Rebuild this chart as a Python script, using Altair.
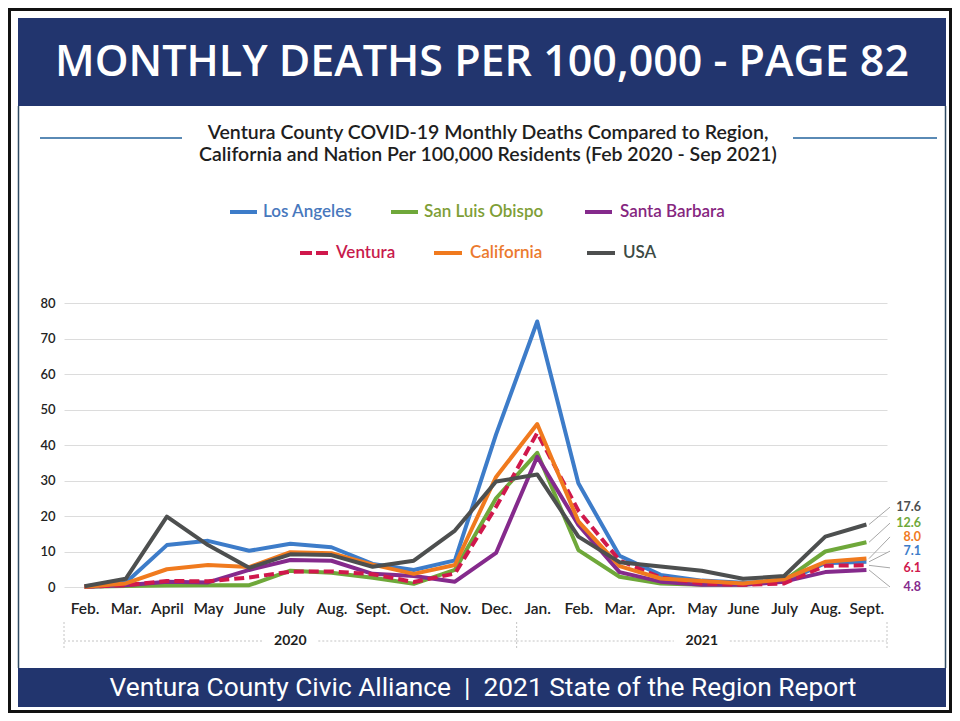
import json
import altair as alt
import pandas as pd

# ---------------- data ----------------
months = ["Feb.", "Mar.", "April", "May", "June", "July", "Aug.", "Sept.", "Oct.", "Nov.", "Dec.",
          "Jan.", "Feb.", "Mar.", "Apr.", "May", "June", "July", "Aug.", "Sept."]
years = ["2020", "2021"]
year_first_idx = [0, 11]
year_last_idx = [10, 19]

series_names = ["Los Angeles", "San Luis Obispo", "Santa Barbara", "Ventura", "California", "USA"]
los_angeles = [0.2, 1.2, 11.8, 13.0, 10.2, 12.2, 11.2, 6.5, 4.8, 7.5, 43.0, 74.8, 29.2, 8.8, 3.4, 1.8, 1.2, 1.5, 6.7, 7.1]
san_luis_obispo = [0.1, 0.3, 0.4, 0.5, 0.5, 4.6, 4.0, 2.6, 0.9, 4.8, 25.0, 37.8, 10.4, 2.9, 1.0, 0.6, 0.6, 1.8, 10.0, 12.6]
santa_barbara = [0.1, 0.5, 1.5, 1.3, 4.8, 7.6, 7.4, 3.7, 3.1, 1.5, 9.6, 36.7, 17.5, 4.2, 1.5, 0.6, 0.6, 1.5, 4.2, 4.8]
ventura = [0.1, 0.5, 1.7, 1.6, 2.7, 4.3, 4.4, 3.6, 1.4, 3.8, 22.6, 43.4, 21.5, 7.5, 2.7, 1.0, 0.6, 1.0, 6.0, 6.1]
california = [0.1, 1.0, 5.0, 6.2, 5.6, 9.8, 9.5, 6.3, 3.7, 6.2, 31.0, 45.9, 18.5, 5.9, 2.4, 1.7, 1.0, 2.2, 7.1, 8.0]
usa = [0.2, 2.3, 19.8, 11.8, 5.4, 9.2, 9.0, 5.7, 7.4, 15.9, 29.7, 31.7, 14.2, 7.0, 5.8, 4.6, 2.3, 3.1, 14.2, 17.6]
series_values = [los_angeles, san_luis_obispo, santa_barbara, ventura, california, usa]

# ---------------- styles / layout ----------------
line_colors = ["#3d7cc9", "#6fa83a", "#852a8c", "#d0184c", "#f07a1e", "#4d4f4f"]
legend_text_colors = ["#4878bd", "#7e9e36", "#86267f", "#c81a4c", "#eb7a2e", "#3c4a44"]
end_label_y = [10.1, 18.0, 0.0, 5.4, 14.1, 22.5]   # where each end label sits (data units)

FONT = "Lato"
W, H = 823, 284
PAD = {"left": 56, "top": 295, "right": 65, "bottom": 126}

X_SCALE = alt.Scale(domain=[-0.5, 19.5], nice=False, zero=False)
Y_SCALE = alt.Scale(domain=[0, 80], nice=False, zero=True)
label_expr = json.dumps(months) + "[datum.value]"
X_AXIS = alt.Axis(values=list(range(len(months))), labelExpr=label_expr, grid=False, ticks=False,
                  domain=False, labelPadding=14, labelFont=FONT, labelFontSize=15.5, labelFontWeight=600,
                  labelColor="#222222", title=None, labelAngle=0, labelOverlap=False, labelFlush=False)
Y_AXIS = alt.Axis(values=list(range(0, 81, 10)), grid=True, gridColor="#dcdcdc", gridWidth=1,
                  ticks=False, domain=False, labelPadding=9, labelFont=FONT, labelFontSize=13,
                  labelFontWeight=600, labelColor="#222222", title=None)

one = pd.DataFrame({"k": [0]})


def text_at(x, y, txt, **kw):
    return alt.Chart(one).mark_text(**kw).encode(x=alt.value(x), y=alt.value(y), text=alt.value(txt))


def rect_at(x, x2, y, y2, **kw):
    return alt.Chart(one).mark_rect(**kw).encode(x=alt.value(x), x2=alt.value(x2),
                                                  y=alt.value(y), y2=alt.value(y2))


def hrule(x, x2, y, **kw):
    return alt.Chart(one).mark_rule(**kw).encode(x=alt.value(x), x2=alt.value(x2), y=alt.value(y))


def vrule(x, y, y2, **kw):
    return alt.Chart(one).mark_rule(**kw).encode(x=alt.value(x), y=alt.value(y), y2=alt.value(y2))


layers = []

# page frame, header, footer
layers.append(rect_at(-54.5, 886.5, -293.5, 408.5, fillOpacity=0, stroke="#111111", strokeWidth=3))
layers.append(rect_at(-46, 882, -285, -197, color="#22356e"))
layers.append(text_at(418, -240, "MONTHLY DEATHS PER 100,000 - PAGE 82", font="Open Sans",
                      fontSize=43, fontWeight=600, color="white", align="center", baseline="middle"))
layers.append(vrule(-45.5, -197, 365, color="#2e4a62", strokeWidth=1.5))
layers.append(vrule(881.5, -197, 365, color="#2e4a62", strokeWidth=1.5))
layers.append(rect_at(-46, 882, 365, 404, color="#22356e"))
layers.append(text_at(419, 385, "Ventura County Civic Alliance\u00a0\u00a0|\u00a0\u00a02021 State of the Region Report",
                      font="Roboto", fontSize=26.3, color="white", align="center", baseline="middle"))

# chart subtitle with side rules
layers.append(text_at(424, -170, "Ventura County COVID-19 Monthly Deaths Compared to Region,",
                      font=FONT, fontSize=19.5, fontWeight=600, color="#1e1e1e", align="center", baseline="middle"))
layers.append(text_at(424, -148, "California and Nation Per 100,000 Residents (Feb 2020 - Sep 2021)",
                      font=FONT, fontSize=19.5, fontWeight=600, color="#1e1e1e", align="center", baseline="middle"))
layers.append(hrule(-24, 118, -165, color="#5a8ab5", strokeWidth=2))
layers.append(hrule(729, 873, -165, color="#5a8ab5", strokeWidth=2))

# legend (two centred rows)
legend_swatch = [(166, 193, -91), (327, 354, -91), (521, 548, -91),
                 (236, 267, -50), (370, 398, -50), (523, 551, -50)]
legend_text_x = [199, 360, 556, 272, 406, 559]
for i, name in enumerate(series_names):
    x0, x1, yy = legend_swatch[i]
    kw = dict(color=line_colors[i], strokeWidth=4)
    if name == "Ventura":
        kw["strokeDash"] = [12, 4]
    layers.append(hrule(x0, x1, yy, **kw))
    layers.append(text_at(legend_text_x[i], yy, name, font=FONT, fontSize=17, fontWeight=600,
                          color=legend_text_colors[i], align="left", baseline="middle"))

# series lines
for i, name in enumerate(series_names):
    df = pd.DataFrame({"idx": list(range(len(months))), "value": series_values[i]})
    kw = dict(color=line_colors[i], strokeWidth=4, strokeJoin="round")
    if name == "Ventura":
        kw["strokeDash"] = [10, 5]
    layers.append(alt.Chart(df).mark_line(**kw).encode(
        x=alt.X("idx:Q", scale=X_SCALE, axis=X_AXIS),
        y=alt.Y("value:Q", scale=Y_SCALE, axis=Y_AXIS)))

# end-of-series value labels with leader lines
end_df = pd.DataFrame({
    "series": series_names,
    "value": [v[-1] for v in series_values],
    "label_y": end_label_y,
    "label": [f"{v[-1]:.1f}" for v in series_values],
    "tcolor": line_colors,
})
layers.append(alt.Chart(end_df).mark_rule(color="#a8a8a8", strokeWidth=1).encode(
    x=alt.value(805), x2=alt.value(826),
    y=alt.Y("value:Q", scale=Y_SCALE, axis=Y_AXIS), y2="label_y:Q"))
layers.append(alt.Chart(end_df).mark_text(align="right", baseline="middle", font=FONT, fontSize=12.5,
                                          fontWeight="bold").encode(
    x=alt.value(857), y=alt.Y("label_y:Q", scale=Y_SCALE, axis=Y_AXIS),
    text="label:N", color=alt.Color("tcolor:N", scale=None)))

# year grouping under the month axis
year_df = pd.DataFrame({"year": years,
                        "start": [a - 0.5 for a in year_first_idx],
                        "end": [b + 0.5 for b in year_last_idx]})
year_df["mid"] = (year_df["start"] + year_df["end"]) / 2
GAP = 0.68
seg_rows = []
for _, r in year_df.iterrows():
    seg_rows.append({"a": r["start"], "b": r["mid"] - GAP})
    seg_rows.append({"a": r["mid"] + GAP, "b": r["end"]})
seg_df = pd.DataFrame(seg_rows)
div_df = pd.DataFrame({"pos": sorted(set(year_df["start"]).union(year_df["end"]))})

layers.append(alt.Chart(div_df).mark_rule(color="#c4c4c4", strokeWidth=1, strokeDash=[2, 2]).encode(
    x=alt.X("pos:Q", scale=X_SCALE, axis=X_AXIS), y=alt.value(H + 35), y2=alt.value(H + 62)))
layers.append(alt.Chart(seg_df).mark_rule(color="#c4c4c4", strokeWidth=1, strokeDash=[2, 2]).encode(
    x=alt.X("a:Q", scale=X_SCALE, axis=X_AXIS), x2="b:Q", y=alt.value(H + 54)))
layers.append(alt.Chart(year_df).mark_text(font=FONT, fontSize=14, fontWeight="bold", color="#1e1e1e",
                                           baseline="middle").encode(
    x=alt.X("mid:Q", scale=X_SCALE, axis=X_AXIS), y=alt.value(H + 54), text="year:N"))

chart = alt.layer(*layers).properties(
    width=W, height=H,
    autosize=alt.AutoSizeParams(type="none"),
    padding=PAD,
    background="white",
).configure_view(stroke=None)

chart.save("out.html", embed_options={"renderer": "svg", "actions": False})
